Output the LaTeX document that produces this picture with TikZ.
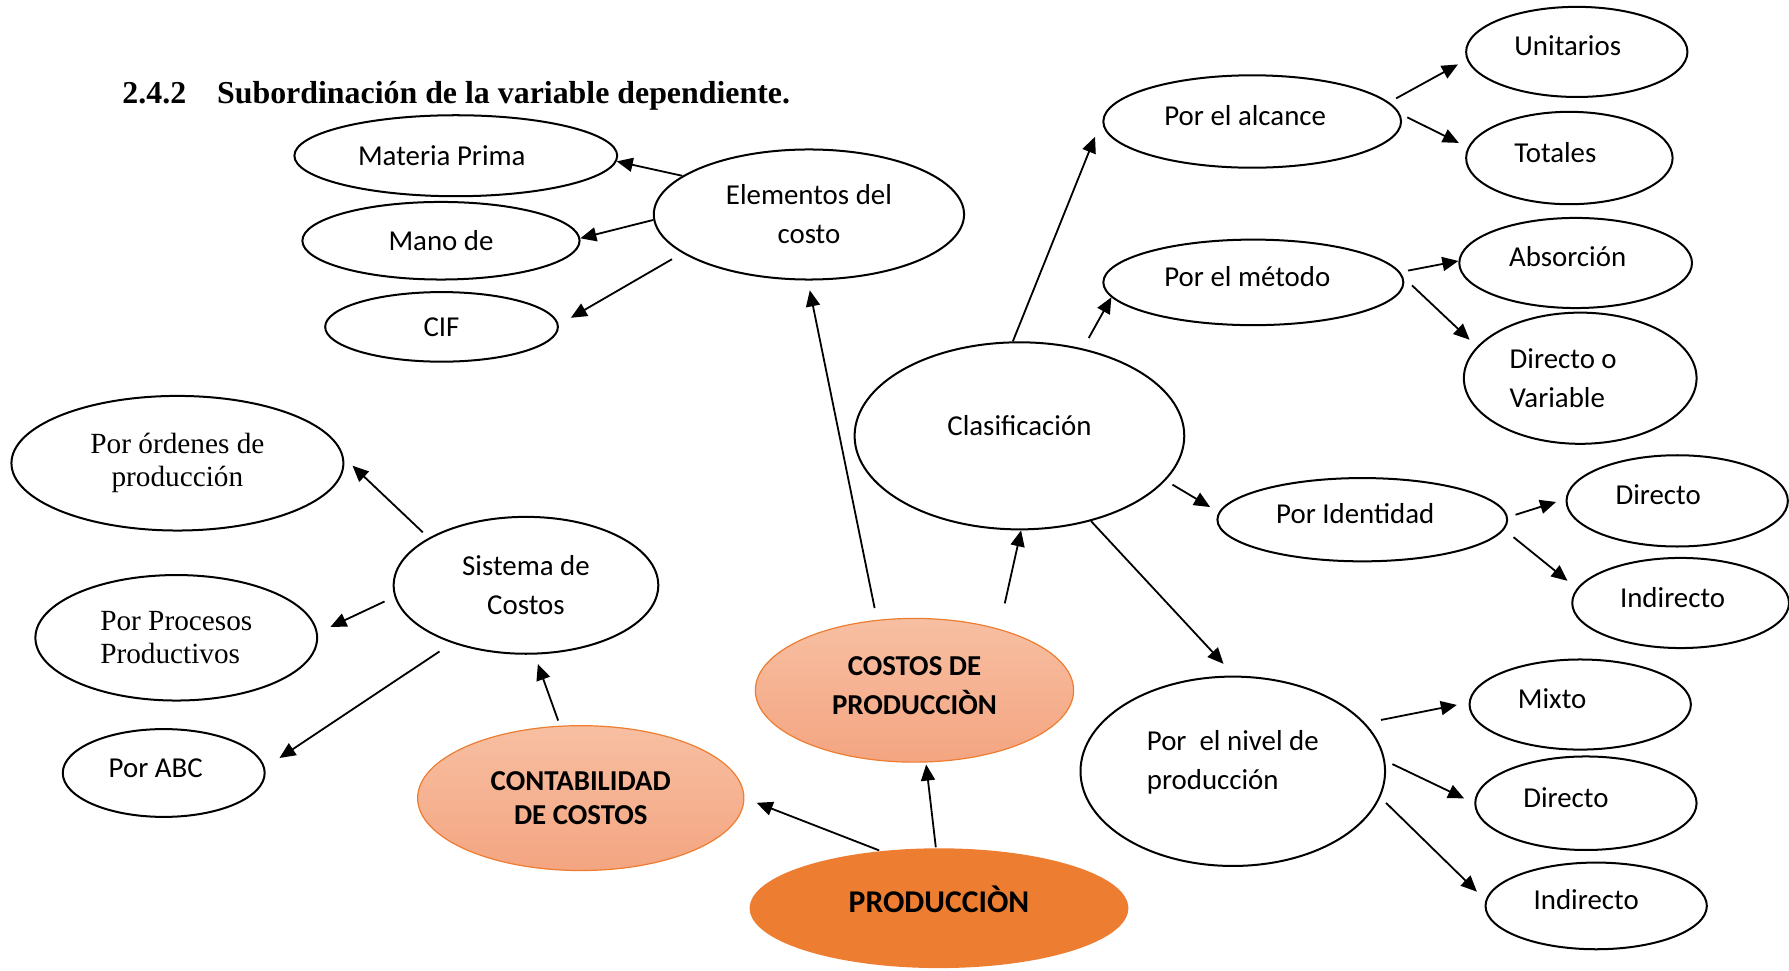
\documentclass[tikz,border=0pt]{standalone}
\usepackage{fontspec}
\setmainfont{Carlito}
\newfontfamily\timesfont{Liberation Serif}
\usetikzlibrary{arrows.meta,shapes.geometric}
\definecolor{salmontop}{HTML}{F7BFA2}
\definecolor{salmonbot}{HTML}{F4A581}
\definecolor{orangeline}{HTML}{ED7D31}
\definecolor{prodfill}{HTML}{ED7D31}

\begin{document}
\begin{tikzpicture}[x=0.02cm, y=-0.02cm,
  oval/.style={ellipse, draw, line width=1pt, inner sep=0pt, align=center,
    font=\fontsize{14.4}{19.4}\selectfont},
  lift/.style={text height=10pt, text depth=6pt},
  roman/.style={font=\timesfont\fontsize{14.6}{16.5}\selectfont},
  soft/.style={draw=orangeline, line width=0.6pt, top color=salmontop,
    bottom color=salmonbot, font=\bfseries\fontsize{14.4}{19.4}\selectfont},
  arr/.style={-{Triangle[length=8pt,width=7pt]}, line width=0.9pt,
    shorten <=4pt, shorten >=5pt}]
  \useasboundingbox (0,0) rectangle (1568,851);

  \node[anchor=base west, inner sep=0pt, font=\timesfont\bfseries\fontsize{15.9}{18}\selectfont]
    (title) at (107,91) {\makebox[1.66cm][l]{2.4.2}Subordinación de la variable dependiente.};

  \node[oval, minimum width=5.66cm, minimum height=1.42cm] (mp) at (399.5,136.5) {Materia Prima\hspace*{14pt}};
  \node[oval, minimum width=4.86cm, minimum height=1.36cm] (mano) at (386.5,211) {Mano de};
  \node[oval, minimum width=4.08cm, minimum height=1.22cm] (cif) at (387,286.5) {CIF};
  \node[oval, minimum width=5.44cm, minimum height=2.28cm] (elem) at (709,188) {Elementos del\\costo};

  \node[oval, roman, minimum width=5.82cm, minimum height=2.36cm] (ord) at (155.5,406) {Por órdenes de\\producción};
  \node[oval, minimum width=4.64cm, minimum height=2.4cm] (sis) at (461,513) {Sistema de\\Costos};
  \node[oval, roman, align=left, minimum width=4.94cm, minimum height=2.2cm] (proc) at (154.5,559) {Por Procesos\\Productivos};
  \node[oval, lift, minimum width=3.54cm, minimum height=1.54cm] (abc) at (143.5,677.5) {Por ABC\hspace*{8pt}};

  \node[oval, soft, minimum width=5.72cm, minimum height=2.54cm] (cont) at (509,699.5) {CONTABILIDAD\\[-2pt]DE COSTOS};
  \node[oval, soft, text depth=4.5pt, minimum width=5.58cm, minimum height=2.52cm] (cost) at (801.5,605) {COSTOS DE\\PRODUCCIÒN};
  \node[oval, draw=none, fill=prodfill, font=\bfseries\fontsize{15.8}{19}\selectfont,
    text height=13pt, text depth=9pt, minimum width=6.64cm, minimum height=2.1cm] (prod) at (823,796) {PRODUCCIÒN};

  \node[oval, text height=10pt, text depth=10.5pt, minimum width=5.78cm, minimum height=3.28cm] (clas) at (893.5,382) {Clasificación};
  \node[oval, lift, minimum width=5.22cm, minimum height=1.62cm] (alc) at (1097.5,106.5) {Por el alcance\hspace*{7pt}};
  \node[oval, lift, minimum width=3.88cm, minimum height=1.58cm] (uni) at (1382,45.5) {Unitarios\hspace*{9pt}};
  \node[oval, lift, minimum width=3.62cm, minimum height=1.62cm] (tot) at (1375.5,138.5) {Totales\hspace*{14pt}};
  \node[oval, lift, minimum width=5.26cm, minimum height=1.5cm] (met) at (1098.5,247.5) {Por el método\hspace*{6pt}};
  \node[oval, lift, minimum width=4.08cm, minimum height=1.58cm] (abs) at (1381,230.5) {Absorción\hspace*{8pt}};
  \node[oval, align=left, minimum width=4.08cm, minimum height=2.3cm] (dv) at (1385,331.5) {Directo o\hspace*{17pt}\\Variable};
  \node[oval, lift, minimum width=5.08cm, minimum height=1.46cm] (iden) at (1194,455.5) {Por Identidad\hspace*{7pt}};
  \node[oval, lift, minimum width=3.88cm, minimum height=1.6cm] (dir1) at (1470,439) {Directo\hspace*{19pt}};
  \node[oval, lift, minimum width=3.8cm, minimum height=1.58cm] (ind1) at (1473,528.5) {Indirecto\hspace*{8pt}};
  \node[oval, align=left, text depth=11.5pt, minimum width=5.34cm, minimum height=3.32cm] (niv) at (1080.5,676) {Por\ \ el nivel de\\producción};
  \node[oval, lift, minimum width=3.88cm, minimum height=1.58cm] (mix) at (1385,617.5) {Mixto\hspace*{28pt}};
  \node[oval, lift, minimum width=3.88cm, minimum height=1.64cm] (dir2) at (1390,704) {Directo\hspace*{20pt}};
  \node[oval, lift, minimum width=3.88cm, minimum height=1.52cm] (ind2) at (1399,794) {Indirecto\hspace*{10pt}};

  \draw[arr, shorten <=0pt, shorten >=0pt] (elem.163) -- (mp.358);
  \draw[arr, shorten <=0pt, shorten >=0pt] (elem.182) -- (mano.1);
  \draw[arr, shorten <=6pt, shorten >=7pt] (elem.197) -- (cif.1);
  \draw[arr, shorten <=6pt] (cost.118) -- (elem.269);
  \draw[arr, shorten <=13pt, shorten >=0pt] (cost.36) -- (clas.271);
  \draw[arr, shorten <=0pt, shorten >=11pt] (clas.94) -- (alc.178);
  \draw[arr, shorten <=6pt, shorten >=0pt] (clas.54) -- (met.186);
  \draw[arr] (clas.343) -- (iden.177);
  \draw[arr, shorten <=0pt, shorten >=8pt] (clas.310) -- (niv.89);
  \draw[arr] (alc.8) -- (uni.184);
  \draw[arr] (alc.3) -- (tot.174);
  \draw[arr, shorten >=0pt] (met.4) -- (abs.179);
  \draw[arr, shorten <=6pt] (met.2) -- (dv.163);
  \draw[arr] (iden.1) -- (dir1.179);
  \draw[arr, shorten <=6pt, shorten >=6pt] (iden.356) -- (ind1.172);
  \draw[arr, shorten <=8pt, shorten >=6pt] (niv.20) -- (mix.179);
  \draw[arr, shorten >=5.6pt] (niv.4) -- (dir2.180);
  \draw[arr, shorten >=6pt] (niv.350) -- (ind2.177);
  \draw[arr, shorten <=0pt, shorten >=6.5pt] (prod.136) -- (cont.0);
  \draw[arr, shorten <=0pt, shorten >=1pt] (prod.93) -- (cost.279);
  \draw[arr, shorten <=2.7pt] (cont.106) -- (sis.277);
  \draw[arr, shorten >=6pt] (sis.154) -- (ord.2);
  \draw[arr, shorten <=5.5pt, shorten >=7pt] (sis.185) -- (proc.2);
  \draw[arr, shorten <=7.5pt, shorten >=8.7pt] (sis.218) -- (abc.3);
\end{tikzpicture}
\end{document}
